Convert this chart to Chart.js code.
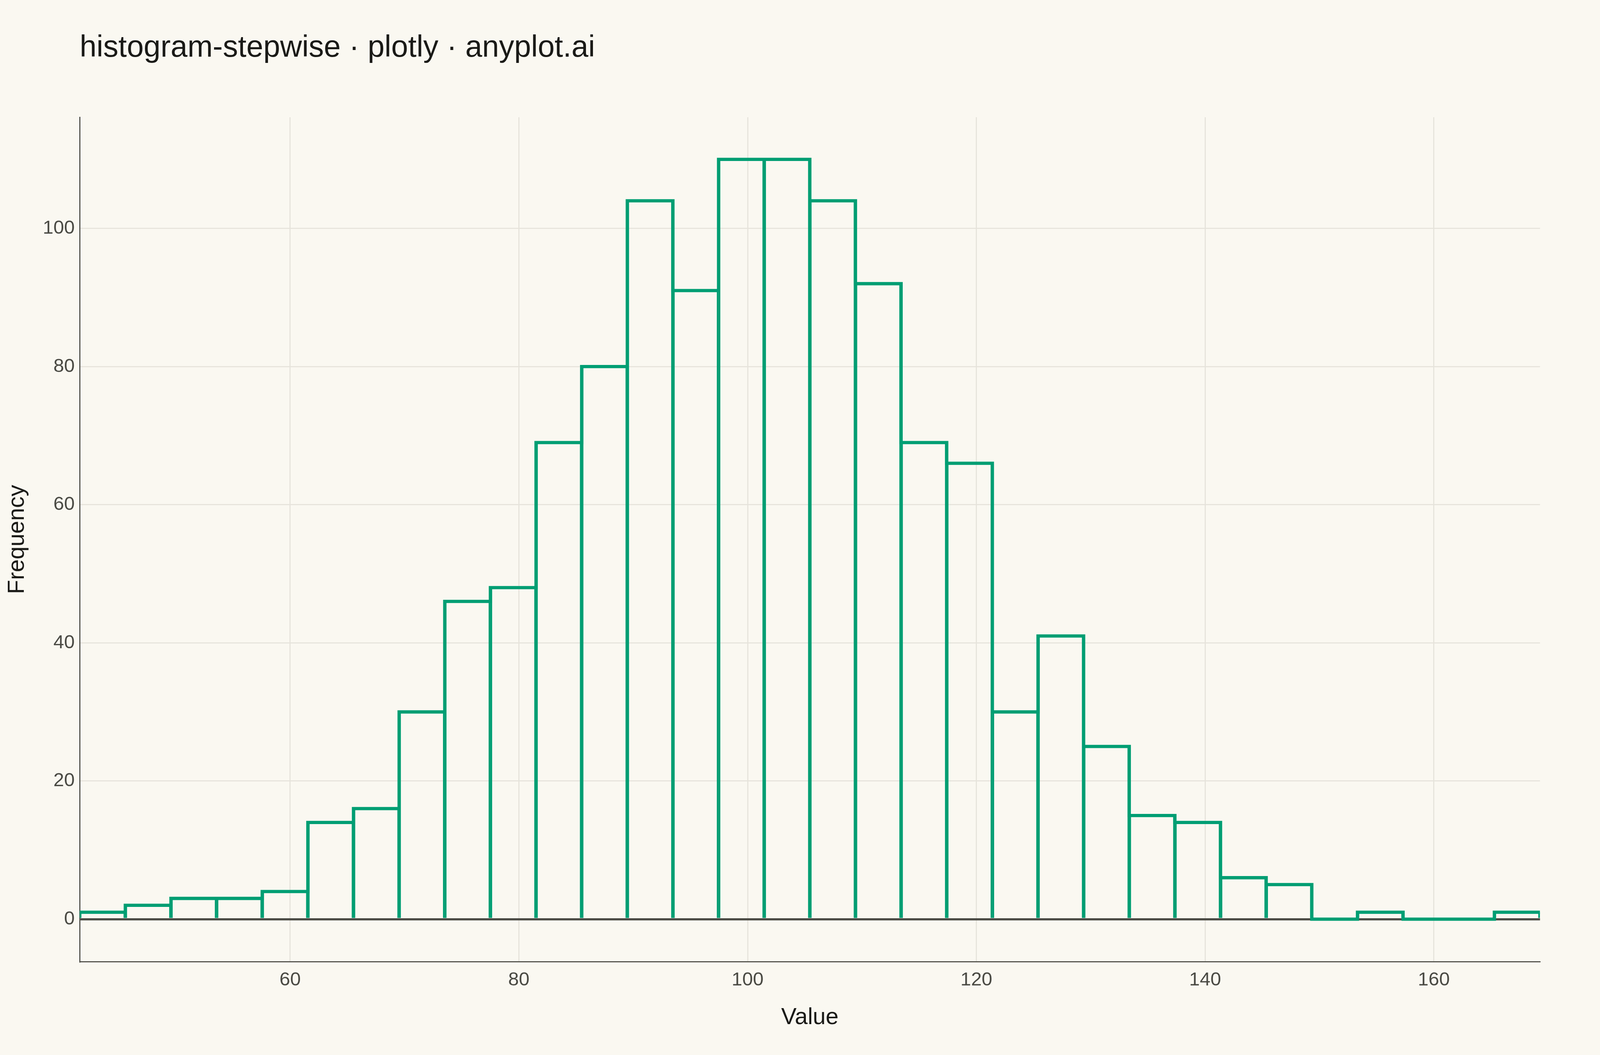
<!DOCTYPE html>
<html>
<head>
<meta charset="utf-8">
<script src="https://cdn.jsdelivr.net/npm/chart.js@4/dist/chart.umd.min.js"></script>
<style>
  html, body { margin: 0; padding: 0; background: #FAF8F1; overflow: hidden; }
  canvas { display: block; }
</style>
</head>
<body>
<canvas id="hist"></canvas>
<script>
// bins: 32 equal-width bins starting at binStart
const binStart = 41.6;
const binWidth = 3.99;
const counts = [1, 2, 3, 3, 4, 14, 16, 30, 46, 48, 69, 80, 104, 91, 110, 110,
                104, 92, 69, 66, 30, 41, 25, 15, 14, 6, 5, 0, 1, 0, 0, 1];
const xTicks = [60, 80, 100, 120, 140, 160];
const yTicks = [0, 20, 40, 60, 80, 100];

const green = '#009E73';
const ink = '#1A1A17';
const inkSoft = '#4A4A44';
const gridColor = '#E6E3DB';

const edges = counts.map((c, i) => binStart + binWidth * i);
const xMax = binStart + binWidth * counts.length;

// bars carry the vertical dividers down to zero
const barData = counts.map((c, i) => ({ x: edges[i] + binWidth / 2, y: c }));
// stepped outline carries the tops (incl. empty bins)
const stepData = counts.map((c, i) => ({ x: edges[i], y: c }));
stepData.push({ x: xMax, y: counts[counts.length - 1] });

// layout is measured on a 4800x2700 design and stretched to the viewport
const W = window.innerWidth;
const H = window.innerHeight;
const kx = W / 4800;
const ky = H / 2700;
const km = Math.sqrt(kx * ky);
const X = (v) => v * kx;
const Y = (v) => v * ky;
const M = (v) => v * km;

const canvas = document.getElementById('hist');
canvas.width = W;
canvas.height = H;

const fontFamily = '"Liberation Sans", Arial, sans-serif';
const titleSize = M(84);
const tickSize = M(53);
const axisTitleSize = M(64);

const titleTop = Y(150) - 0.3465 * titleSize - 0.6 * titleSize;

new Chart(canvas, {
  type: 'bar',
  data: {
    datasets: [
      {
        type: 'line',
        data: stepData,
        stepped: 'before',
        borderColor: green,
        borderWidth: M(9),
        borderJoinStyle: 'miter',
        borderCapStyle: 'butt',
        pointRadius: 0,
        fill: false,
        tension: 0
      },
      {
        type: 'bar',
        data: barData,
        backgroundColor: 'rgba(0,0,0,0)',
        borderColor: green,
        borderWidth: { left: M(4.5), right: M(4.5), top: 0, bottom: 0 },
        borderSkipped: false,
        barPercentage: 1,
        categoryPercentage: 1
      }
    ]
  },
  options: {
    responsive: false,
    animation: false,
    layout: { padding: { left: 0, right: X(180), top: 0, bottom: 0 } },
    plugins: {
      legend: { display: false },
      tooltip: { enabled: false },
      title: {
        display: true,
        text: 'histogram-stepwise · plotly · anyplot.ai',
        align: 'start',
        fullSize: false,
        color: ink,
        font: { family: fontFamily, size: titleSize, weight: 'normal' },
        padding: { top: titleTop, bottom: Y(300) - titleTop - 1.2 * titleSize }
      }
    },
    scales: {
      x: {
        type: 'linear',
        min: binStart,
        max: xMax,
        offset: false,
        afterBuildTicks: (scale) => { scale.ticks = xTicks.map(v => ({ value: v })); },
        afterFit: (scale) => { scale.height = Y(239); },
        grid: { offset: false, color: gridColor, lineWidth: M(3), drawTicks: false },
        border: { display: true, color: inkSoft, width: M(3) },
        ticks: {
          color: inkSoft,
          padding: Y(29) - 0.2305 * tickSize,
          maxRotation: 0,
          font: { family: fontFamily, size: tickSize }
        },
        title: {
          display: true,
          text: 'Value',
          color: ink,
          font: { family: fontFamily, size: axisTitleSize },
          padding: { top: 0, bottom: Y(95) - 0.6 * axisTitleSize }
        }
      },
      y: {
        type: 'linear',
        min: -6.15,
        max: 116.1,
        afterBuildTicks: (scale) => { scale.ticks = yTicks.map(v => ({ value: v })); },
        afterFit: (scale) => { scale.width = X(239); },
        grid: {
          color: (ctx) => (ctx.tick && ctx.tick.value === 0 ? inkSoft : gridColor),
          lineWidth: (ctx) => (ctx.tick && ctx.tick.value === 0 ? M(6) : M(3)),
          drawTicks: false
        },
        border: { display: true, color: inkSoft, width: M(3) },
        ticks: { color: inkSoft, padding: X(15), font: { family: fontFamily, size: tickSize } },
        title: {
          display: true,
          text: 'Frequency',
          color: ink,
          font: { family: fontFamily, size: axisTitleSize },
          padding: { top: X(52) - 0.6 * axisTitleSize, bottom: 0 }
        }
      }
    }
  }
});
</script>
</body>
</html>
